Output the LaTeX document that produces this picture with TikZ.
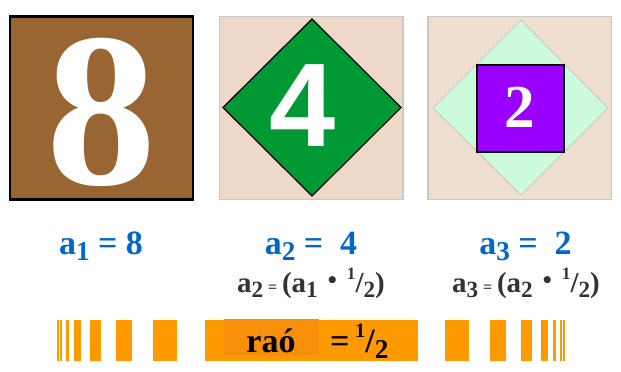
\documentclass[tikz,border=0pt]{standalone}
\usepackage{fontspec}
\setmainfont{Liberation Serif}
\newfontfamily\sansfnt{Liberation Sans}
\definecolor{brownsq}{RGB}{153,102,51}
\definecolor{beigeA}{RGB}{238,216,200}
\definecolor{beigeB}{RGB}{238,223,206}
\definecolor{greensq}{RGB}{0,153,51}
\definecolor{mint}{RGB}{204,250,220}
\definecolor{purp}{RGB}{153,0,255}
\definecolor{labblue}{RGB}{0,102,204}
\definecolor{darktxt}{RGB}{51,51,51}
\definecolor{barorange}{RGB}{255,153,0}
\definecolor{bardark}{RGB}{247,143,10}
\definecolor{framegray}{RGB}{200,200,200}
\newcommand\sbx[1]{\raisebox{-0.2em}{\scalebox{0.8}{#1}}}
\newcommand\eqs{\scalebox{0.55}{=}}
\newcommand\spx[1]{\raisebox{0.42em}{\scalebox{0.6}{#1}}}
\newcommand\bdot{\raisebox{-0.08em}{\scalebox{1.5}{·}}}
\tikzset{
  txt/.style={inner sep=0pt, anchor=base, font=\bfseries},
  bluelab/.style={txt, text=labblue, font=\fontsize{34}{34}\selectfont\bfseries},
  formula/.style={txt, text=darktxt, font=\fontsize{29}{29}\selectfont\bfseries},
  bar/.style={fill=barorange, draw=none},
  frame/.style={draw=framegray, line width=1.5pt}
}
\begin{document}
\begin{tikzpicture}[x=1pt,y=-1pt]
\useasboundingbox (0,0) rectangle (621,372);
% square 1
\filldraw[fill=brownsq, draw=black, line width=2.5pt] (10,16.5) rectangle (193,199.5);
\node[txt, text=white, font=\fontsize{220}{220}\selectfont\bfseries] (eight) at (101,184) {8};
% square 2
\filldraw[frame, fill=beigeA] (219.5,16.5) rectangle (403,199.5);
\filldraw[fill=greensq, draw=black, line width=1.2pt] (312,19) -- (401,107.5) -- (312,196) -- (223,107.5) -- cycle;
\node[txt, text=white, font=\fontsize{119}{119}\selectfont\sansfnt\bfseries] (four) at (303,146) {4};
% square 3
\filldraw[frame, fill=beigeB] (428,16.5) rectangle (611.5,199.5);
\filldraw[fill=mint, draw=framegray, line width=1pt] (521,20) -- (608,108) -- (521,195) -- (433,108) -- cycle;
\filldraw[fill=purp, draw=black, line width=2pt] (477,64.5) rectangle (564,151.5);
\node[txt, text=white, font=\fontsize{61}{61}\selectfont\bfseries] (two) at (520,127.5) {2};
% labels
\node[bluelab] (l1) at (101,254) {a\sbx{1} = 8};
\node[bluelab] (l2) at (311,254) {a\sbx{2} =\ \ 4};
\node[bluelab] (l3) at (525.5,254) {a\sbx{3} =\ \ 2};
\node[formula] (f2) at (311,292) {a\sbx{2}\,\eqs\,(a\sbx{1}\ \bdot\ \spx{1}/\sbx{2})};
\node[formula] (f3) at (526,292) {a\sbx{3}\,\eqs\,(a\sbx{2}\ \bdot\ \spx{1}/\sbx{2})};
% bars
\foreach \a/\b in {57.3/58.7, 60/62.3, 65.7/69, 74/80.7, 90/101.3, 116/132.3, 153/177}{
  \fill[bar] (\a,320) rectangle (\b,360.7);
  \fill[bar] ({622-\b},320) rectangle ({622-\a},360.7);
}
\fill[bar] (204.5,320) rectangle (417.5,360.7);
\fill[bardark] (224.3,319) rectangle (319,355);
\node[txt, text=black, font=\fontsize{34}{34}\selectfont\bfseries] (ratio) at (271,352) {raó};
\node[txt, anchor=base west, text=black, font=\fontsize{34}{34}\selectfont\bfseries] (half) at (330,352) {=\,\spx{1}/\sbx{2}};
\end{tikzpicture}
\end{document}
